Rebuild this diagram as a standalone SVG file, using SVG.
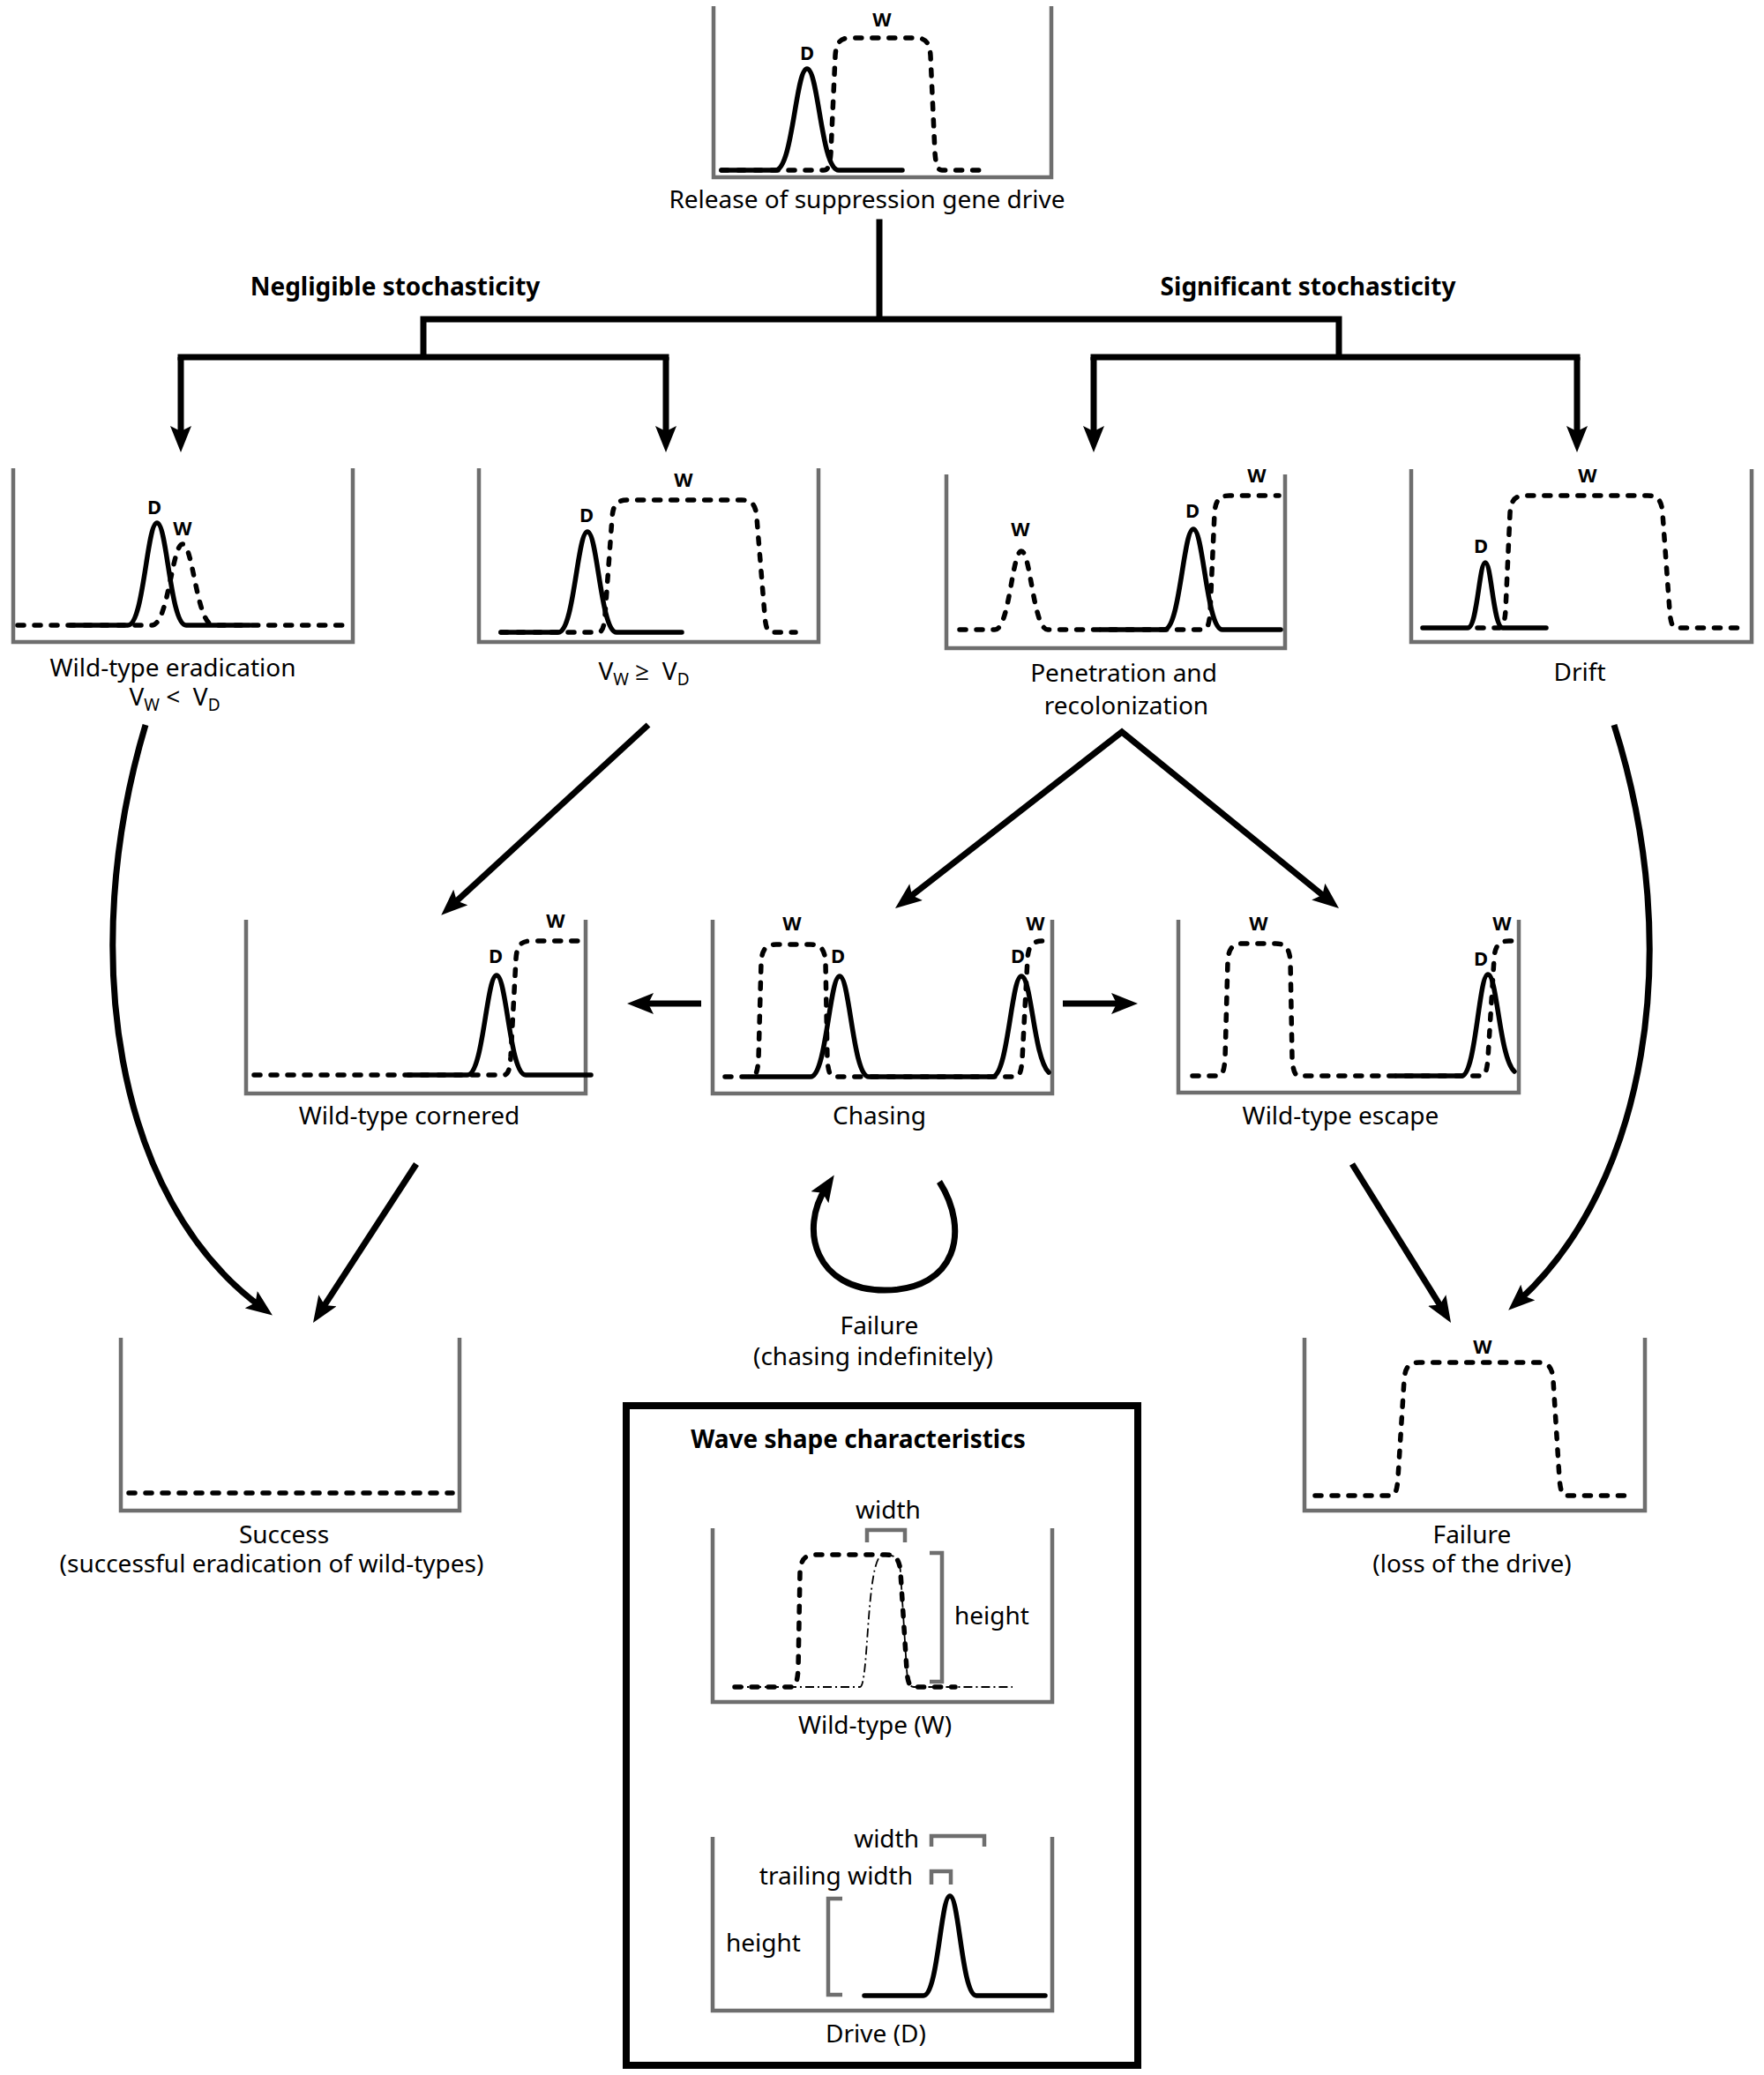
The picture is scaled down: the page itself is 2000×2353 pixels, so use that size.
<svg xmlns="http://www.w3.org/2000/svg" width="2000" height="2353" viewBox="0 0 2000 2353">
<defs>
<style>
.box{fill:none;stroke:#6e6e6e;stroke-width:4.5}
.brk{fill:none;stroke:#6e6e6e;stroke-width:4.5}
.d{fill:none;stroke:#000;stroke-width:5.5;stroke-linejoin:round;stroke-linecap:round}
.w{fill:none;stroke:#000;stroke-width:5.5;stroke-dasharray:7 12;stroke-linecap:round;stroke-linejoin:round}
.dd{fill:none;stroke:#000;stroke-width:1.8;stroke-dasharray:10 4 2 4}
.t{font-family:"Noto Sans","Open Sans",sans-serif;font-size:28px;text-anchor:middle;fill:#000}
.s{text-anchor:start}
.e{text-anchor:end}
.b{font-weight:bold}
.lab{font-family:"Noto Sans","Open Sans",sans-serif;font-size:22px;font-weight:bold;text-anchor:middle;fill:#000}
.c{fill:none;stroke:#000;stroke-width:7}
.arr{fill:none;stroke:#000;stroke-width:7;marker-end:url(#ah)}
</style>
<marker id="ah" markerUnits="userSpaceOnUse" markerWidth="30" markerHeight="24" refX="14" refY="12" orient="auto"><path d="M0,0 L30,12 L0,24 L6,12 z" fill="#000"/></marker>
<marker id="ahs" markerUnits="userSpaceOnUse" markerWidth="30" markerHeight="24" refX="14" refY="12" orient="auto-start-reverse"><path d="M0,0 L30,12 L0,24 L6,12 z" fill="#000"/></marker>
</defs>
<rect width="2000" height="2353" fill="#fff"/>

<g id="release">
<path class="box" d="M809,7 V201 H1192 V7"/>
<path class="d" d="M818,193 H879 C899,193 902,78 915,78 C928,78 931,193 951,193 H1023"/>
<path class="w" d="M818,193 H934 C939,193 941,187 942,173 L947,63 C948,49 952,43 964,43 H1038 C1050,43 1054,49 1055,63 L1060,173 C1061,187 1063,193 1068,193 H1118"/>
<text class="lab" x="915" y="68">D</text>
<text class="lab" x="1000" y="30">W</text>
<text class="t" x="983" y="236">Release of suppression gene drive</text>
</g>

<text class="t b" x="448" y="335">Negligible stochasticity</text>
<text class="t b" x="1483" y="335">Significant stochasticity</text>

<g id="eradication">
<path class="box" d="M15,531 V728 H400 V531"/>
<path class="w" d="M20,709 H172 C191,709 195,617 207,617 C219,617 223,709 242,709 H390"/>
<path class="d" d="M80,709 H145 C163,709 166.5,593 178,593 C189.5,593 193,709 211,709 H283"/>
<text class="lab" x="175" y="583">D</text>
<text class="lab" x="207" y="607">W</text>
<text class="t" x="196" y="767">Wild-type eradication</text>
<text class="t" x="198" y="800" xml:space="preserve">V<tspan font-size="19" dy="6">W</tspan><tspan dy="-6"> &lt;  V</tspan><tspan font-size="19" dy="6">D</tspan></text>
</g>

<g id="vw-ge-vd">
<path class="box" d="M543,531 V728 H928 V531"/>
<path class="d" d="M568,717 H633 C651,717 654.5,603 666,603 C677.5,603 681,717 699,717 H773"/>
<path class="w" d="M568,717 H678 C683,717 685,711 686,697 L694,587 C695,573 699,567 711,567 H841 C853,567 857,573 858,587 L867,697 C868,711 870,717 875,717 H902"/>
<text class="lab" x="665" y="592">D</text>
<text class="lab" x="775" y="552">W</text>
<text class="t" x="730" y="771" xml:space="preserve">V<tspan font-size="19" dy="6">W</tspan><tspan dy="-6"> ≥  V</tspan><tspan font-size="19" dy="6">D</tspan></text>
</g>

<g id="penetration">
<path class="box" d="M1073,538 V735 H1457 V538"/>
<path class="w" d="M1088,714 H1128 C1144.5,714 1147.5,625 1158,625 C1168.5,625 1171.5,714 1188,714 H1364 C1369,714 1371,708 1372,694 L1377,582 C1378,568 1382,562 1394,562 H1450"/>
<path class="d" d="M1248,714 H1320 C1338,714 1341.5,600 1353,600 C1364.5,600 1368,714 1386,714 H1452"/>
<text class="lab" x="1157" y="608">W</text>
<text class="lab" x="1352" y="587">D</text>
<text class="lab" x="1425" y="547">W</text>
<text class="t" x="1274" y="773">Penetration and</text>
<text class="t" x="1277" y="810">recolonization</text>
</g>

<g id="drift">
<path class="box" d="M1600,532 V728 H1986 V532"/>
<path class="d" d="M1613,712 H1664 C1675,712 1677,638 1684,638 C1691,638 1693,712 1704,712 H1753"/>
<path class="w" d="M1675,712 H1699 C1704,712 1706,706 1707,692 L1712,582 C1713,568 1717,562 1729,562 H1868 C1880,562 1884,568 1885,582 L1893,692 C1894,706 1896,712 1901,712 H1973"/>
<text class="lab" x="1679" y="627">D</text>
<text class="lab" x="1800" y="547">W</text>
<text class="t" x="1791" y="772">Drift</text>
</g>

<g id="cornered">
<path class="box" d="M279,1043 V1240 H664 V1043"/>
<path class="w" d="M288,1219 H571 C576,1219 578,1213 579,1199 L585,1087 C586,1073 590,1067 602,1067 H662"/>
<path class="d" d="M463,1219 H530 C548,1219 551.5,1106 563,1106 C574.5,1106 578,1219 596,1219 H670"/>
<text class="lab" x="562" y="1092">D</text>
<text class="lab" x="630" y="1052">W</text>
<text class="t" x="464" y="1275">Wild-type cornered</text>
</g>

<g id="chasing">
<path class="box" d="M808,1043 V1240 H1193 V1043"/>
<path class="w" d="M822,1221 H852 C857,1221 859,1215 860,1201 L863,1091 C864,1077 868,1071 880,1071 H919 C931,1071 935,1077 936,1091 L938,1201 C939,1215 941,1221 946,1221 H1151 C1156,1221 1158,1215 1159,1201 L1165,1087 C1166,1073 1170,1067 1182,1067 H1192"/>
<path class="d" d="M850,1221 H919 C937,1221 940.5,1107 952,1107 C963.5,1107 967,1221 985,1221 H1125 C1143,1221 1146.5,1107 1158,1107 C1169.5,1107 1172,1200 1189,1216"/>
<text class="lab" x="898" y="1055">W</text>
<text class="lab" x="950" y="1092">D</text>
<text class="lab" x="1154" y="1092">D</text>
<text class="lab" x="1174" y="1055">W</text>
<text class="t" x="997" y="1275">Chasing</text>
</g>

<g id="escape">
<path class="box" d="M1336,1043 V1239 H1722 V1043"/>
<path class="w" d="M1352,1220 H1381 C1386,1220 1388,1214 1389,1200 L1392,1090 C1393,1076 1397,1070 1409,1070 H1446 C1458,1070 1462,1076 1463,1090 L1465,1200 C1466,1214 1468,1220 1473,1220 H1679 C1684,1220 1686,1214 1687,1200 L1694,1087 C1695,1073 1699,1067 1711,1067 H1720"/>
<path class="d" d="M1583,1220 H1657 C1673.5,1220 1676.5,1105 1687,1105 C1697.5,1105 1700,1200 1717,1215"/>
<text class="lab" x="1427" y="1055">W</text>
<text class="lab" x="1679" y="1095">D</text>
<text class="lab" x="1703" y="1055">W</text>
<text class="t" x="1520" y="1275">Wild-type escape</text>
</g>

<g id="failure-chasing">
<text class="t" x="997" y="1513">Failure</text>
<text class="t" x="990" y="1548">(chasing indefinitely)</text>
</g>

<g id="success">
<path class="box" d="M137,1517 V1713 H521 V1517"/>
<path class="w" d="M146,1693 H513"/>
<text class="t" x="322" y="1750">Success</text>
<text class="t" x="308" y="1783">(successful eradication of wild-types)</text>
</g>

<g id="failure-loss">
<path class="box" d="M1479,1517 V1713 H1865 V1517"/>
<path class="w" d="M1491,1696 H1577 C1582,1696 1584,1690 1585,1676 L1592,1565 C1593,1551 1597,1545 1609,1545 H1744 C1756,1545 1760,1551 1761,1565 L1768,1676 C1769,1690 1771,1696 1776,1696 H1851"/>
<text class="lab" x="1681" y="1535">W</text>
<text class="t" x="1669" y="1750">Failure</text>
<text class="t" x="1669" y="1783">(loss of the drive)</text>
</g>

<g id="wave-shape">
<rect x="710" y="1594" width="580" height="748" fill="none" stroke="#000" stroke-width="8"/>
<text class="t b" x="973" y="1642">Wave shape characteristics</text>
<path class="box" d="M808,1733 V1930 H1193 V1733"/>
<path class="dd" d="M833,1913 H975 C985,1913 982,1770 1000,1763 H1004 C1016,1763 1020,1769 1021,1783 L1028,1893 C1029,1907 1031,1913 1036,1913 H1148"/>
<path class="w" d="M833,1913 H897 C902,1913 904,1907 905,1893 L907,1783 C908,1769 912,1763 924,1763 H1004 C1016,1763 1020,1769 1021,1783 L1028,1893 C1029,1907 1031,1913 1036,1913 H1083"/>
<path class="brk" d="M983,1749 V1735 H1026 V1749"/>
<path class="brk" d="M1054,1761 H1068 V1907 H1054"/>
<text class="t" x="1007" y="1722">width</text>
<text class="t s" x="1082" y="1842">height</text>
<text class="t" x="992" y="1966">Wild-type (W)</text>
<path class="box" d="M808,2083 V2280 H1193 V2083"/>
<path class="d" d="M980,2263 H1047 C1063.5,2263 1066.5,2150 1077,2150 C1087.5,2150 1090.5,2263 1107,2263 H1185"/>
<path class="brk" d="M1056,2094 V2082 H1116 V2094"/>
<path class="brk" d="M1056,2137 V2122 H1078 V2137"/>
<path class="brk" d="M955,2153 H939 V2262 H955"/>
<text class="t e" x="1042" y="2095">width</text>
<text class="t e" x="1035" y="2137">trailing width</text>
<text class="t s" x="823" y="2213">height</text>
<text class="t" x="993" y="2316">Drive (D)</text>
</g>

<g id="connectors">
<path class="c" stroke-linecap="square" d="M997,252 V362 M480,362 H1518 M480,362 V405 M1518,362 V405 M205,405 H755 M1240,405 H1788"/>
<path class="arr" d="M205,405 V497"/>
<path class="arr" d="M755,405 V497"/>
<path class="arr" d="M1240,405 V497"/>
<path class="arr" d="M1788,405 V497"/>
<path class="arr" d="M165,822 C88,1080 130,1360 296,1482"/>
<path class="arr" d="M1830,822 C1912,1080 1865,1345 1722,1475"/>
<path class="arr" d="M735,822 L512,1027"/>
<path class="c" stroke-linejoin="miter" marker-start="url(#ahs)" marker-end="url(#ah)" d="M1027.6,1020.2 L1272,830 L1505.6,1019.9"/>
<path class="arr" d="M795,1138 H727"/>
<path class="arr" d="M1205,1138 H1274"/>
<path class="arr" d="M472,1320 L363.7,1486.6"/>
<path class="arr" d="M1533,1320 L1636.6,1486.4"/>
<path class="arr" d="M1065,1340 C1100,1395 1085,1463 1003,1463 C925,1463 905,1395 937,1346"/>
</g>
</svg>
